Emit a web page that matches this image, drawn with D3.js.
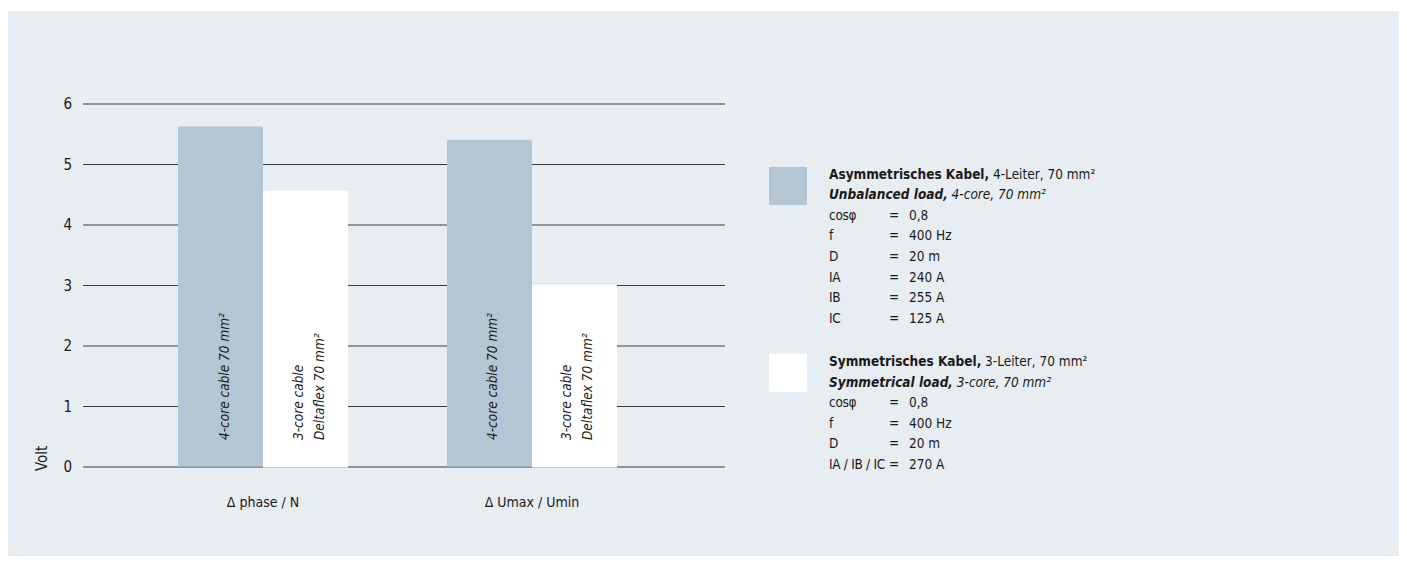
<!DOCTYPE html>
<html><head><meta charset="utf-8">
<script src="https://cdn.jsdelivr.net/npm/d3@7"></script>
<style>
html,body{margin:0;padding:0;background:#fff;}
svg text{font-family:"DejaVu Sans Condensed","Liberation Sans Narrow","Roboto",sans-serif;fill:#1a1a1a;}
</style></head>
<body><svg id="c" width="1407" height="565"></svg>
<script>
const categories = ["Δ phase / N", "Δ Umax / Umin"];
const series = ["4-core", "3-core"];
const values4core = [5.62, 5.40];
const values3core = [4.56, 3.0];
const barLabels4core = ["4-core cable 70 mm²"];
const barLabels3core = ["3-core cable", "Deltaflex 70 mm²"];
const yTicks = [0, 1, 2, 3, 4, 5, 6];
const yTitle = "Volt";
const legend1Title = ["Asymmetrisches Kabel,", " 4-Leiter, 70 mm²"];
const legend1Sub = ["Unbalanced load,", " 4-core, 70 mm²"];
const legend1Params = [["cosφ","0,8"],["f","400 Hz"],["D","20 m"],["IA","240 A"],["IB","255 A"],["IC","125 A"]];
const legend2Title = ["Symmetrisches Kabel,", " 3-Leiter, 70 mm²"];
const legend2Sub = ["Symmetrical load,", " 3-core, 70 mm²"];
const legend2Params = [["cosφ","0,8"],["f","400 Hz"],["D","20 m"],["IA / IB / IC","270 A"]];

const colors = {"4-core":"#b4c6d4","3-core":"#ffffff"};
const svg = d3.select("#c");
svg.append("rect").attr("x",8).attr("y",11).attr("width",1391).attr("height",545).attr("fill","#e8edf1");

const y = d3.scaleLinear().domain([0,6]).range([466.5,103.5]);
const x0 = d3.scaleBand().domain(categories).range([178,617]).paddingInner(0.368).paddingOuter(0);
const x1 = d3.scaleBand().domain(series).range([0,x0.bandwidth()]).padding(0);

// gridlines
const yAxis = d3.axisLeft(y).tickValues(yTicks).tickSize(-(725-83)).tickPadding(11).tickFormat(d3.format("d"));
const gAxis = svg.append("g").attr("transform","translate(83,0)").call(yAxis);
gAxis.select(".domain").remove();
gAxis.selectAll(".tick line").attr("stroke","#3a3a3a").attr("stroke-width",1.2);
gAxis.selectAll(".tick text").attr("font-size",15).attr("fill","#1a1a1a").attr("dy","0.35em");

svg.append("text").attr("transform","translate(47,471) rotate(-90)").attr("font-size",15).text(yTitle);

const data = categories.map((c,i)=>({cat:c, vals:[{s:"4-core",v:values4core[i]},{s:"3-core",v:values3core[i]}]}));
const groups = svg.selectAll("g.grp").data(data).join("g").attr("class","grp")
  .attr("transform",d=>`translate(${x0(d.cat)},0)`);
groups.selectAll("rect").data(d=>d.vals).join("rect")
  .attr("x",d=>x1(d.s)).attr("width",x1.bandwidth())
  .attr("y",d=>y(d.v)).attr("height",d=>y(0)-y(d.v)+(d.s==="3-core"?1:0))
  .attr("fill",d=>colors[d.s]);

// in-bar labels
groups.each(function(){
  const g = d3.select(this);
  const c1 = x1("4-core")+x1.bandwidth()/2;
  barLabels4core.forEach((t,i)=>{
    g.append("text").attr("transform",`translate(${c1+8},440) rotate(-90)`)
      .attr("font-size",13.5).attr("font-style","italic").text(t);
  });
  const c2 = x1("3-core")+x1.bandwidth()/2;
  barLabels3core.forEach((t,i)=>{
    g.append("text").attr("transform",`translate(${c2-3+i*21},440) rotate(-90)`)
      .attr("font-size",13.5).attr("font-style","italic").text(t);
  });
});

// category labels
svg.selectAll("text.cat").data(categories).join("text").attr("class","cat")
  .attr("x",d=>x0(d)+x0.bandwidth()/2).attr("y",507).attr("text-anchor","middle")
  .attr("font-size",14).text(d=>d);

// legends
function legend(top, swY, color, title, sub, params){
  svg.append("rect").attr("x",769).attr("y",swY).attr("width",38).attr("height",38).attr("fill",color);
  const step = 20.6;
  const fs = 13.5;
  const t1 = svg.append("text").attr("x",829).attr("y",top).attr("font-size",fs);
  t1.append("tspan").attr("font-weight","bold").text(title[0]);
  t1.append("tspan").text(title[1]);
  const t2 = svg.append("text").attr("x",829).attr("y",top+step).attr("font-size",fs).attr("font-style","italic");
  t2.append("tspan").attr("font-weight","bold").text(sub[0]);
  t2.append("tspan").text(sub[1]);
  params.forEach((p,i)=>{
    const yy = top+step*(i+2);
    svg.append("text").attr("x",829).attr("y",yy).attr("font-size",fs).attr("letter-spacing",-0.3).text(p[0]);
    svg.append("text").attr("x",889).attr("y",yy).attr("font-size",fs).text("=");
    svg.append("text").attr("x",909).attr("y",yy).attr("font-size",fs).text(p[1]);
  });
}
legend(178.5, 167, colors["4-core"], legend1Title, legend1Sub, legend1Params);
legend(366, 354, colors["3-core"], legend2Title, legend2Sub, legend2Params);
</script></body></html>
